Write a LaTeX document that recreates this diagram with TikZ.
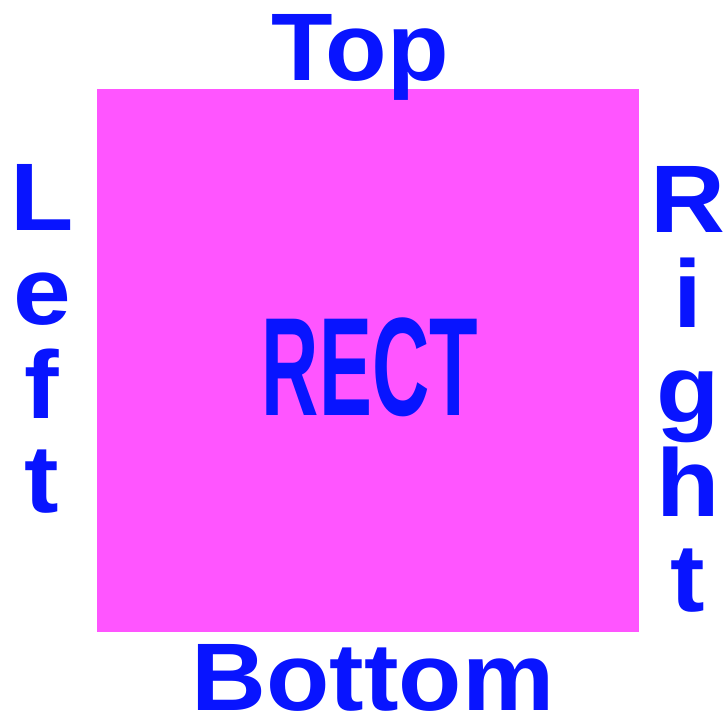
\documentclass[tikz,border=0pt]{standalone}
\usepackage{fontspec}
\setmainfont{Liberation Sans}
\usepackage{xcolor}
\usepackage{tikz}

\definecolor{rectpink}{HTML}{FF55FF}
\definecolor{textblue}{HTML}{0814FF}

\newcommand{\sidefont}{\fontsize{96}{96}\selectfont\bfseries}
\newcommand{\rectfont}{\fontsize{140}{140}\selectfont\bfseries}

\begin{document}
\begin{tikzpicture}[x=1pt, y=-1pt,
  lbl/.style={text=textblue, font=\sidefont, inner sep=0pt, anchor=base}]
  \useasboundingbox (0,0) rectangle (724,717);

  % Rettangolo
  \fill[rectpink] (97,89) rectangle (639,632);
  \node[lbl, font=\rectfont] (rect) at (370,415) {\scalebox{0.567}[1]{RECT}};

  % Etichette sopra e sotto
  \node[lbl] (top) at (360,81) {\scalebox{1.05}[1]{Top}};
  \node[lbl] (bottom) at (373,710) {\scalebox{1.08}[1]{Bottom}};

  % Lettere a sinistra e a destra
  \foreach \ch [count=\i] in {L,e,f,t}
    \node[lbl] (left\i) at (42,{230+94*(\i-1)}) {\scalebox{1.08}[1]{\ch}};
  \foreach \ch [count=\i] in {R,i,g,h,t}
    \node[lbl] (right\i) at (688,{233+94.5*(\i-1)}) {\scalebox{1.08}[1]{\ch}};
\end{tikzpicture}
\end{document}
